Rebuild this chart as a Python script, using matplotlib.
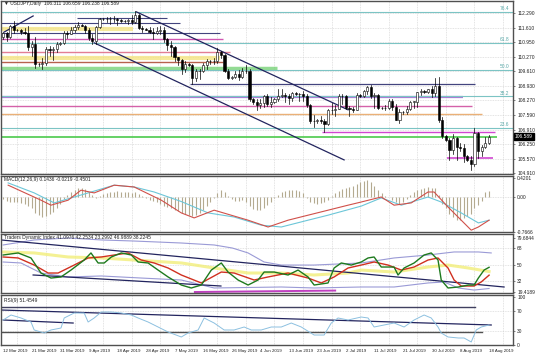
import matplotlib
matplotlib.use("Agg")
import matplotlib.pyplot as plt
import numpy as np

plt.rcParams['font.family'] = ['Liberation Sans Narrow', 'Liberation Sans', 'DejaVu Sans']

# ---- price data (USDJPY daily) ----
opens = [111.20, 111.35, 111.18, 111.70, 111.48, 111.50, 111.42, 111.38, 110.70, 110.85,
         109.92, 109.95, 109.98, 110.62, 110.60, 110.64, 110.85, 110.90, 111.35, 111.34,
         111.50, 111.65, 111.72, 111.70, 111.48, 111.15, 111.00, 111.65, 112.00, 112.02,
         112.00, 112.00, 112.00, 111.95, 111.92, 111.90, 111.95, 111.85, 112.20, 111.60,
         111.55, 111.52, 111.42, 111.38, 111.45, 111.50, 111.10, 110.80, 110.70, 110.25,
         110.10, 109.70, 109.95, 109.90, 109.30, 109.60, 109.60, 109.88, 110.05, 110.05,
         110.06, 110.50, 110.35, 109.60, 109.30, 109.35, 109.45, 109.35, 109.60, 109.60,
         108.30, 108.20, 108.05, 108.15, 108.45, 108.10, 108.20, 108.30, 108.45, 108.50,
         108.45, 108.35, 108.60, 108.55, 108.55, 108.45, 108.05, 107.30, 107.30, 107.35,
         107.30, 107.15, 107.80, 107.80, 107.85, 108.45, 108.45, 107.90, 107.85, 107.82,
         108.50, 108.45, 108.70, 108.85, 108.45, 108.50, 107.90, 107.92, 107.90, 108.25,
         107.95, 107.35, 107.70, 107.72, 107.85, 108.20, 108.20, 108.65, 108.70, 108.65,
         108.80, 108.60, 108.90, 107.35, 106.60, 106.45, 105.95, 106.50, 106.10, 106.05,
         105.70, 105.50, 105.30, 106.75, 105.90, 106.10, 106.311]
highs = [111.43, 111.40, 111.75, 111.90, 111.55, 111.55, 111.60, 111.69, 111.00, 111.20,
         110.00, 110.22, 110.70, 110.78, 110.70, 110.95, 110.95, 111.45, 111.45, 111.65,
         111.75, 111.85, 111.78, 111.75, 111.60, 111.30, 111.70, 112.05, 112.05, 112.10,
         112.10, 112.17, 112.05, 112.00, 111.95, 112.00, 112.18, 112.40, 112.25, 111.70,
         111.60, 111.65, 111.60, 111.65, 111.70, 111.65, 111.15, 111.00, 110.75, 110.25,
         110.15, 110.08, 110.00, 109.95, 109.70, 109.70, 109.98, 110.15, 110.10, 110.20,
         110.67, 110.55, 110.40, 109.70, 109.40, 109.60, 109.65, 109.75, 109.90, 109.70,
         108.35, 108.30, 108.30, 108.50, 108.55, 108.40, 108.35, 108.80, 108.80, 108.60,
         108.55, 108.65, 108.65, 108.60, 108.70, 108.55, 108.10, 107.60, 107.40, 107.55,
         107.40, 107.85, 108.15, 108.05, 108.55, 108.55, 108.50, 108.00, 107.95, 108.60,
         108.55, 108.75, 108.90, 108.95, 108.60, 108.55, 107.95, 108.05, 108.30, 108.30,
         108.10, 107.85, 107.75, 108.00, 108.25, 108.25, 108.65, 108.80, 108.75, 108.80,
         108.90, 109.30, 109.32, 107.50, 106.65, 106.50, 106.70, 106.55, 106.30, 106.25,
         105.75, 105.70, 106.98, 106.80, 106.20, 106.55, 106.659]
lows = [111.10, 111.00, 111.15, 111.35, 111.45, 111.32, 111.30, 110.60, 110.30, 109.75,
        109.85, 109.70, 109.90, 110.28, 110.10, 110.50, 110.80, 110.85, 111.15, 111.30,
        111.40, 111.55, 111.68, 111.35, 111.05, 110.85, 110.85, 111.60, 111.95, 111.85,
        111.80, 111.85, 111.75, 111.85, 111.85, 111.80, 111.80, 111.82, 111.55, 111.40,
        111.50, 111.35, 111.10, 111.30, 111.30, 110.95, 110.60, 110.30, 110.05, 109.90,
        109.47, 109.55, 109.85, 109.02, 109.15, 109.25, 109.55, 109.70, 109.95, 109.95,
        110.00, 110.20, 109.55, 109.25, 109.25, 109.30, 109.18, 109.30, 109.50, 108.25,
        108.10, 107.80, 107.90, 107.95, 108.00, 107.95, 108.15, 108.25, 108.40, 108.20,
        108.10, 108.25, 108.50, 108.25, 108.25, 107.95, 107.20, 107.05, 107.20, 107.20,
        106.78, 107.10, 107.65, 107.55, 107.85, 108.10, 107.85, 107.55, 107.70, 107.80,
        108.40, 108.40, 108.55, 108.35, 107.90, 107.85, 107.85, 107.80, 107.85, 107.80,
        107.35, 107.20, 107.65, 107.65, 107.80, 107.90, 107.95, 108.50, 108.60, 108.60,
        108.40, 108.45, 107.25, 106.50, 106.40, 105.52, 105.80, 105.50, 105.90, 105.40,
        105.45, 105.05, 105.25, 105.60, 105.70, 106.05, 106.238]
closes = [111.35, 111.18, 111.70, 111.48, 111.50, 111.42, 111.38, 110.70, 110.85, 109.92,
          109.95, 109.98, 110.62, 110.60, 110.64, 110.85, 110.90, 111.35, 111.34, 111.50,
          111.65, 111.72, 111.70, 111.48, 111.15, 111.00, 111.65, 112.00, 112.02, 112.00,
          112.00, 112.00, 111.95, 111.92, 111.90, 111.95, 111.85, 112.20, 111.60, 111.55,
          111.52, 111.42, 111.38, 111.45, 111.50, 111.10, 110.80, 110.70, 110.25, 110.10,
          109.70, 109.95, 109.90, 109.30, 109.60, 109.60, 109.88, 110.05, 110.05, 110.06,
          110.50, 110.35, 109.60, 109.30, 109.35, 109.45, 109.35, 109.60, 109.60, 108.30,
          108.20, 108.05, 108.15, 108.45, 108.10, 108.20, 108.30, 108.45, 108.50, 108.45,
          108.35, 108.60, 108.55, 108.55, 108.45, 108.05, 107.30, 107.30, 107.35, 107.30,
          107.15, 107.80, 107.80, 107.85, 108.45, 108.45, 107.90, 107.85, 107.82, 108.50,
          108.45, 108.70, 108.85, 108.45, 108.50, 107.90, 107.92, 107.90, 108.25, 107.95,
          107.35, 107.70, 107.72, 107.85, 108.20, 108.20, 108.65, 108.70, 108.65, 108.80,
          108.60, 108.90, 107.35, 106.60, 106.45, 105.95, 106.50, 106.10, 106.05, 105.70,
          105.50, 105.30, 106.75, 105.90, 106.10, 106.30, 106.589]

date_labels = ["12 Mar 2019", "21 Mar 2019", "31 Mar 2019", "9 Apr 2019", "18 Apr 2019",
               "28 Apr 2019", "7 May 2019", "16 May 2019", "26 May 2019", "4 Jun 2019",
               "13 Jun 2019", "23 Jun 2019", "2 Jul 2019", "11 Jul 2019", "21 Jul 2019",
               "30 Jul 2019", "8 Aug 2019", "18 Aug 2019"]

price_ticks = [112.290, 111.610, 110.950, 110.270, 109.610, 108.930, 108.270,
               107.590, 106.910, 106.250, 105.570, 104.910]

# horizontal levels drawn on the price panel
fib_levels = [112.34, 110.92, 109.66, 108.45, 106.98]
fib_names = ["76.4", "61.8", "50.0", "38.2", "23.6"]
hlevels = [112.06, 111.83, 111.55, 111.37, 111.09, 110.49, 110.21, 110.03, 109.75,
           108.99, 108.42, 108.00, 107.63, 106.82, 106.57, 105.60]

# MACD (histogram per bar, two lines sampled)
macd_hist = [-0.05, -0.08, -0.10, -0.12, -0.12, -0.14, -0.15, -0.20, -0.25,
             -0.35, -0.40, -0.44, -0.42, -0.38, -0.32, -0.25, -0.15, -0.05,
             0.04, 0.10, 0.15, 0.19, 0.20, 0.18, 0.12, 0.05, -0.03,
             0.02, 0.06, 0.09, 0.11, 0.12, 0.13, 0.12, 0.11, 0.10,
             0.09, 0.10, 0.06, 0.02, -0.02, -0.06, -0.09, -0.12, -0.15,
             -0.19, -0.22, -0.25, -0.28, -0.31, -0.35, -0.38, -0.40, -0.42,
             -0.40, -0.35, -0.28, -0.20, -0.10, -0.02, 0.08, 0.15, 0.12,
             0.03, -0.05, -0.08, -0.08, -0.07, -0.10, -0.20, -0.26, -0.29,
             -0.28, -0.24, -0.18, -0.10, -0.03, 0.05, 0.10, 0.13, 0.15,
             0.16, 0.15, 0.13, 0.08, -0.02, -0.10, -0.14, -0.15, -0.14,
             -0.12, -0.06, 0.02, 0.08, 0.14, 0.18, 0.20, 0.22, 0.24,
             0.28, 0.32, 0.35, 0.37, 0.34, 0.25, 0.15, 0.08, 0.03,
             0.00, -0.06, -0.12, -0.15, -0.12, -0.05, 0.04, 0.10, 0.15,
             0.18, 0.20, 0.21, 0.20, 0.19, 0.05, -0.15, -0.25, -0.38,
             -0.45, -0.50, -0.50, -0.47, -0.42, -0.38, -0.25, -0.18, -0.08,
             0.10, 0.14]
macd_red_x = [1.4, 10.6, 13.4, 18.2, 21.8, 25.5, 31.1, 36.7, 44.3, 49.9, 53.5, 59.1, 68.6,
              74.2, 79.8, 85.4, 91.0, 96.6, 100.3, 105.9, 109.5, 114.3, 119.0, 120.7, 124.6,
              128.3, 131.1, 133.1, 136.1]
macd_red_y = [0.26, -0.07, -0.18, -0.07, 0.15, 0.09, 0.26, 0.22, -0.07, -0.35, -0.46, -0.29,
              -0.51, -0.66, -0.51, -0.40, -0.29, -0.18, -0.11, 0.00, -0.18, -0.13, 0.11, 0.11,
              -0.22, -0.51, -0.73, -0.66, -0.51]
macd_cyan_x = [1.4, 8.7, 14.3, 23.8, 31.1, 36.7, 42.3, 49.9, 57.4, 64.7, 72.3, 77.9, 85.4,
               91.0, 100.3, 105.9, 111.5, 119.0, 122.7, 128.3, 133.1, 136.1]
macd_cyan_y = [0.31, 0.09, -0.13, 0.09, 0.26, 0.22, 0.11, -0.10, -0.35, -0.44, -0.62, -0.66,
               -0.51, -0.40, -0.20, -0.02, -0.18, 0.00, -0.11, -0.35, -0.57, -0.51]

# Traders Dynamic Index
tdi_green_x = [0, 4.2, 7.8, 10.6, 13.4, 16.2, 19.0, 22.7, 24.6, 26.6, 28.3, 30.3, 33.1, 35.9,
               37.8, 40.6, 43.4, 46.2, 49.9, 52.7, 55.5, 58.3, 61.1, 63.0, 65.8, 68.6, 71.4,
               73.1, 75.9, 79.8, 82.6, 85.4, 87.1, 91.0, 92.7, 94.7, 97.5, 100.3, 102.2, 103.9,
               105.9, 109.5, 110.6, 112.3, 115.1, 117.9, 119.9, 121.8, 122.7, 124.6, 127.5,
               130.3, 131.9, 133.1, 134.7, 136.1]
tdi_green_y = [60.7, 63.0, 57.4, 40.6, 35.0, 36.2, 43.9, 55.1, 63.0, 51.8, 51.8, 58.5, 63.0,
               60.7, 52.9, 51.8, 43.9, 36.2, 27.2, 23.9, 27.2, 43.9, 51.8, 41.7, 32.8, 27.2,
               32.8, 41.7, 41.7, 38.4, 43.9, 36.2, 27.2, 29.5, 46.2, 51.8, 49.5, 52.9, 57.4,
               58.5, 47.3, 47.3, 38.4, 46.2, 51.8, 60.7, 63.0, 55.1, 32.8, 23.9, 25.0, 27.2,
               27.2, 35.0, 43.9, 46.99]
tdi_red_x = [0, 4.2, 8.7, 12.6, 15.4, 19.9, 23.8, 27.5, 31.1, 35.0, 38.7, 42.3, 46.2, 49.9,
             55.5, 61.1, 64.7, 70.3, 74.2, 79.8, 85.4, 89.1, 92.7, 96.6, 100.3, 103.9, 107.8,
             111.5, 115.1, 119.0, 121.8, 124.6, 126.3, 128.3, 131.9, 133.9, 136.1]
tdi_red_y = [58.5, 57.4, 49.5, 40.6, 40.6, 49.5, 57.4, 58.5, 60.7, 63.0, 55.1, 51.8, 46.2,
             38.4, 29.5, 41.7, 40.6, 32.8, 36.2, 40.6, 35.0, 29.5, 36.2, 46.2, 49.5, 52.9,
             49.5, 43.9, 47.3, 55.1, 57.4, 46.2, 32.8, 26.1, 26.1, 30.6, 38.22]
tdi_yellow_x = [0, 8.7, 18.2, 27.5, 36.7, 50.0, 59.1, 68.6, 77.9, 87.1, 96.6, 100.3, 109.5,
                119.0, 124.6, 130.3, 136.1]
tdi_yellow_y = [64.1, 63.0, 58.5, 57.4, 55.1, 51.8, 46.2, 40.6, 40.6, 38.4, 40.6, 43.9, 41.7,
                47.3, 49.5, 46.2, 42.25]
tdi_up_x = [0, 8.7, 18.2, 27.5, 36.7, 49.9, 59.1, 64.2, 68.6, 73.1, 77.9, 87.1, 100.3, 109.5,
            119.0, 126.3, 133.1, 136.7]
tdi_up_y = [71.9, 77.5, 79.7, 77.5, 76.3, 74.1, 71.9, 68.5, 63.0, 52.9, 49.5, 49.5, 51.8,
            57.4, 60.7, 64.1, 64.1, 63.0]
tdi_lo_x = [0, 5.0, 10.6, 18.2, 27.5, 38.7, 49.9, 59.1, 77.9, 87.1, 100.3, 109.5, 119.0,
            123.5, 127.5, 131.9, 136.1]
tdi_lo_y = [52.9, 51.8, 40.6, 36.2, 37.3, 35.0, 32.8, 23.9, 25.0, 23.9, 25.0, 25.0, 29.5,
            30.6, 23.9, 21.6, 23.3]

# RSI(9)
rsi_x = [0, 2.2, 5.0, 7.8, 8.7, 11.5, 13.4, 16.2, 17.1, 19.9, 22.7, 23.8, 25.5, 27.5, 30.3,
         33.1, 35.9, 37.8, 40.6, 43.4, 46.2, 49.9, 51.8, 54.6, 56.3, 59.1, 61.9, 64.7, 67.5,
         69.5, 72.3, 75.1, 77.9, 80.7, 83.5, 87.1, 89.9, 91.9, 93.8, 96.6, 100.3, 102.2,
         103.9, 106.7, 109.5, 112.3, 115.1, 117.9, 119.9, 121.8, 122.7, 124.6, 127.5, 129.1,
         131.1, 132.5, 133.9, 136.1]
rsi_y = [52.1, 62.5, 56.3, 47.9, 31.3, 25.0, 31.3, 35.4, 56.3, 66.7, 66.7, 47.9, 56.3, 68.8,
         68.8, 66.7, 62.5, 56.3, 47.9, 37.5, 27.1, 16.7, 25.0, 31.3, 56.3, 45.8, 31.3, 31.3,
         37.5, 31.3, 31.3, 37.5, 37.5, 45.8, 37.5, 20.8, 20.8, 45.8, 56.3, 52.1, 58.3, 56.3,
         37.5, 41.7, 45.8, 37.5, 52.1, 62.5, 56.3, 37.5, 25.0, 16.7, 14.6, 14.6, 6.3, 31.3,
         37.5, 41.7]

W, H = 536, 358
fig = plt.figure(figsize=(W / 100, H / 100), dpi=100)
fig.patch.set_facecolor("white")


def rect(x0, y0, x1, y1):
    return [x0 / W, 1 - y1 / H, (x1 - x0) / W, (y1 - y0) / H]


FS = 3.5
XL = (-0.6, 142.8)
n = len(closes)
idx = np.arange(n)
TXT = "#222222"
GRID = dict(color="#c8c8c8", lw=0.4, ls=(0, (1.5, 1.5)), zorder=0)

ax = fig.add_axes(rect(1, 1, 513, 174))
am = fig.add_axes(rect(1, 176, 513, 232))
at = fig.add_axes(rect(1, 234, 513, 293))
ar = fig.add_axes(rect(1, 295, 513, 345))

for a in (ax, am, at, ar):
    a.set_xlim(*XL)
    a.set_facecolor("white")
    for s in a.spines.values():
        s.set_color("#505050")
        s.set_linewidth(1.0)
    a.yaxis.tick_right()
    a.tick_params(axis="y", labelsize=FS, length=1.5, width=0.4, pad=1.5, colors=TXT)
    a.set_xticks([])
    for b in range(4, 143, 8):
        a.axvline(b, **GRID)

# ---- price panel ----
ax.set_ylim(104.86, 112.84)
ax.set_yticks(price_ticks)
ax.set_yticklabels(["%.3f" % t for t in price_ticks])
for t in price_ticks:
    ax.axhline(t, **GRID)

hcols = ["#2e3070", "#2e3070", "#f4e27a", "#2e3070", "#cc44aa", "#e07088", "#f4e27a",
         "#b0503a", "#6fd06f", "#2e3070", "#a070d0", "#d050a0", "#e8a868", "#cc33cc",
         "#55cc55", "#cc33cc"]
hwid = [0.8, 0.8, 3.0, 0.8, 1.0, 1.0, 3.0, 1.0, 2.5, 0.9, 1.6, 1.0, 1.0, 1.0, 1.4, 1.2]
hx0 = [20.7, -1, -1, -1, -1, -1, -1, -1, -1, 52.4, -1, -1, -1, 89.3, -1, 124.3]
hx1 = [46.0, 49.6, 36.5, 60.8, 61.6, 63.6, 60.8, 61.6, 76.7, 132.2, 128.8, 131.3, 134.2,
       137.8, 138.3, 137.2]
for lv, c, w_, a0, a1 in zip(hlevels, hcols, hwid, hx0, hx1):
    ax.plot([a0, a1], [lv, lv], color=c, lw=w_, alpha=0.9 if w_ < 2.5 else 0.75,
            solid_capstyle="butt", zorder=1)
for lv, nm in zip(fib_levels, fib_names):
    ax.axhline(lv, color="#7cc4c4", lw=0.8, zorder=1)
    ax.text(141.8, lv + 0.03, nm, fontsize=FS, color="#5aa8a8", ha="right", va="bottom")

# trend lines
ax.plot([0.3, 8.4], [111.41, 112.15], color="#22245e", lw=0.9, zorder=2)
ax.plot([37.3, 96.6], [112.34, 107.82], color="#22245e", lw=0.9, zorder=2)
ax.plot([25.5, 95.5], [110.91, 105.51], color="#22245e", lw=0.9, zorder=2)

# candles
bw = 0.6
for i in range(n):
    o, h, l, c = opens[i], highs[i], lows[i], closes[i]
    ax.plot([i, i], [l, h], color="black", lw=0.5, zorder=3)
    bot, top = min(o, c), max(o, c)
    hgt = max(top - bot, 0.008)
    face = "white" if c >= o else "black"
    ax.add_patch(plt.Rectangle((i - bw / 2, bot), bw, hgt, facecolor=face,
                               edgecolor="black", lw=0.4, zorder=4))

ax.text(0.3, 112.72, "\u25bc USDJPY,Daily  106.311 106.659 106.238 106.589", fontsize=FS,
        color=TXT, va="center", ha="left",
        family=['Liberation Sans Narrow', 'Liberation Sans', 'DejaVu Sans'])
ax.text(1.004, (closes[-1] - 104.86) / (112.84 - 104.86), "%.3f" % closes[-1],
        transform=ax.transAxes, fontsize=FS, color="white", va="center", ha="left",
        bbox=dict(boxstyle="square,pad=0.2", fc="black", ec="black"), zorder=10)

# ---- MACD ----
am.set_ylim(-0.77, 0.462)
am.set_yticks([0.4201, 0.0, -0.7666])
am.set_yticklabels(["0.4201", "0.00", "-0.7666"])
am.axhline(0, **GRID)
am.vlines(idx, 0, macd_hist, color="#b4aa90", lw=0.8, zorder=1)
am.plot(macd_cyan_x, macd_cyan_y, color="#6cc6d8", lw=0.8, zorder=2)
am.plot(macd_red_x, macd_red_y, color="#d0504a", lw=0.8, zorder=3)
am.text(0.3, 0.38, "MACD(12,26,9) 0.1436 -0.0219 -0.4501", fontsize=FS, color=TXT,
        va="center")

# ---- TDI ----
at.set_ylim(18.3, 84.15)
at.set_yticks([79.6844, 68, 50, 32, 19.4189])
at.set_yticklabels(["79.6844", "68", "50", "32", "19.4189"])
for t in (68, 50, 32):
    at.axhline(t, **GRID)
at.plot(tdi_yellow_x, tdi_yellow_y, color="#f2ee7a", lw=2.2, alpha=0.8, zorder=1)
at.plot(tdi_up_x, tdi_up_y, color="#9a9ad6", lw=0.8, zorder=1)
at.plot(tdi_lo_x, tdi_lo_y, color="#9a9ad6", lw=0.8, zorder=1)
at.plot([53.7, 93.0], [19.4, 21.0], color="#c040c0", lw=1.4, zorder=2)
at.plot([-0.6, 140.3], [77.5, 25.0], color="#22245e", lw=0.9, zorder=2)
at.plot([8.4, 61.0], [38.4, 26.1], color="#22245e", lw=0.9, zorder=2)
at.plot(tdi_red_x, tdi_red_y, color="#d03020", lw=1.0, zorder=3)
at.plot(tdi_green_x, tdi_green_y, color="#1e7a1e", lw=1.0, zorder=4)
at.text(0.3, 80.0, "Traders Dynamic Index 41.0976 42.2534 23.2992 46.9889 38.2245",
        fontsize=FS, color=TXT, va="center")

# ---- RSI ----
ar.set_ylim(0, 104.2)
ar.set_yticks([100, 70, 30, 0])
ar.set_yticklabels(["100", "70", "30", "0"])
for t in (70, 30):
    ar.axhline(t, **GRID)
ar.plot([-0.6, 132.2], [80.2, 80.2], color="#404060", lw=1.0, zorder=1)
ar.plot([-0.6, 134.2], [27.1, 27.1], color="#505050", lw=1.0, zorder=1)
ar.plot([-0.6, 136.7], [72.9, 41.7], color="#22245e", lw=0.9, zorder=2)
ar.plot([0.0, 19.6], [52.1, 45.8], color="#22245e", lw=0.9, zorder=2)
ar.plot(rsi_x, rsi_y, color="#8cc0e0", lw=0.7, zorder=3)
ar.text(0.3, 93, "RSI(9) 51.4549", fontsize=FS, color=TXT, va="center")

# date labels
for k, lab in enumerate(date_labels):
    ar.text(8 * k, -8, lab, fontsize=3.2, color=TXT, ha="left", va="top", clip_on=False)

fig.savefig("out.png", dpi=100, facecolor="white")
